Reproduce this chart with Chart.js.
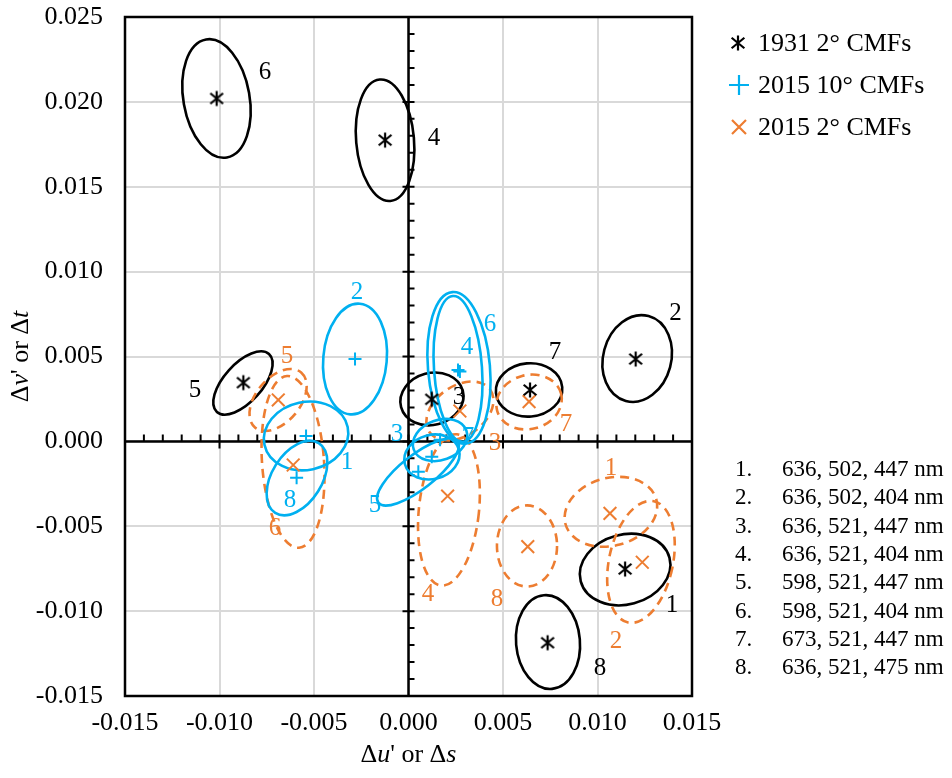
<!DOCTYPE html>
<html>
<head>
<meta charset="utf-8">
<title>White point shift by CMF set</title>
<script src="https://cdn.jsdelivr.net/npm/chart.js@4"></script>
<style>
  body { margin: 0; background: #fff; }
  canvas { display: block; }
</style>
</head>
<body>
<canvas id="cmfChart" width="952" height="778"></canvas>
<script>
// primary sets, numbered 1..8
const setIds = ['1', '2', '3', '4', '5', '6', '7', '8'];
const primaries = [
  '636, 502, 447 nm', '636, 502, 404 nm', '636, 521, 447 nm', '636, 521, 404 nm',
  '598, 521, 447 nm', '598, 521, 404 nm', '673, 521, 447 nm', '636, 521, 475 nm'
];

// mean shift (du' or ds, dv' or dt) for each set
const cie1931U = [0.01146, 0.01202, 0.00123, -0.00124, -0.00874, -0.01015, 0.00643, 0.00736];
const cie1931V = [-0.00752, 0.00485, 0.00248, 0.01775, 0.00346, 0.02020, 0.00303, -0.01186];
const cmf10U = [-0.00542, -0.00283, 0.00123, 0.00272, 0.00052, 0.00262, 0.00167, -0.00592];
const cmf10V = [0.00032, 0.00485, -0.00090, 0.00411, -0.00179, 0.00420, 0.00010, -0.00214];
const cmf2U = [0.01066, 0.01237, 0.00272, 0.00207, -0.00689, -0.00610, 0.00638, 0.00631];
const cmf2V = [-0.00424, -0.00712, 0.00179, -0.00322, 0.00244, -0.00139, 0.00234, -0.00620];

// spread ellipses: centre u, centre v, half width (u), half height (v), tilt deg
const cie1931Ell = [
  [0.01146, -0.00755, 0.00243, 0.00206, 15],
  [0.01210, 0.00488, 0.00180, 0.00259, -15],
  [0.00124, 0.00250, 0.00169, 0.00153, 15],
  [-0.00124, 0.01774, 0.00153, 0.00359, 5],
  [-0.00876, 0.00344, 0.00206, 0.00112, 48],
  [-0.01016, 0.02020, 0.00175, 0.00353, 10],
  [0.00638, 0.00303, 0.00176, 0.00157, 5],
  [0.00738, -0.01182, 0.00169, 0.00277, 5]
];
const cmf10Ell = [
  [-0.00542, 0.00032, 0.00225, 0.00200, 12],
  [-0.00283, 0.00485, 0.00168, 0.00327, -5],
  [0.00124, -0.00092, 0.00148, 0.00130, 15],
  [0.00262, 0.00427, 0.00127, 0.00430, 4],
  [0.00050, -0.00180, 0.00265, 0.00100, 38],
  [0.00267, 0.00433, 0.00164, 0.00448, 5],
  [0.00167, 0.00008, 0.00148, 0.00118, 20],
  [-0.00590, -0.00216, 0.00132, 0.00242, -32]
];
const cmf2Ell = [
  [0.01071, -0.00415, 0.00249, 0.00200, 15],
  [0.01230, -0.00710, 0.00169, 0.00365, -12],
  [0.00272, 0.00179, 0.00196, 0.00147, 35],
  [0.00214, -0.00404, 0.00159, 0.00448, -6],
  [-0.00690, 0.00244, 0.00190, 0.00130, 50],
  [-0.00611, -0.00121, 0.00164, 0.00507, 4],
  [0.00638, 0.00232, 0.00175, 0.00159, 15],
  [0.00627, -0.00616, 0.00159, 0.00239, 0]
];

// where the set numbers sit next to each ellipse (u, v)
const cie1931Tags = [
  [0.01394, -0.00964], [0.01413, 0.00756], [0.00267, 0.00256], [0.00135, 0.01787],
  [-0.01130, 0.00303], [-0.00759, 0.02176], [0.00775, 0.00521], [0.01013, -0.01335]
];
const cmf10Tags = [
  [-0.00325, -0.00122], [-0.00272, 0.00880], [-0.00061, 0.00038], [0.00310, 0.00556],
  [-0.00177, -0.00375], [0.00431, 0.00686], [0.00315, 0.00026], [-0.00627, -0.00345]
];
const cmf2Tags = [
  [0.01071, -0.00157], [0.01098, -0.01176], [0.00458, -0.00010], [0.00103, -0.00899],
  [-0.00643, 0.00503], [-0.00706, -0.00510], [0.00833, 0.00097], [0.00468, -0.00934]
];

const BLUE = '#00b0f0';
const ORANGE = '#ed7d31';
const SERIF = "'Liberation Serif', 'Times New Roman', serif";

const groups = [
  { name: '1931 2° CMFs', u: cie1931U, v: cie1931V, ell: cie1931Ell, tags: cie1931Tags, color: '#000000', dash: [] },
  { name: '2015 10° CMFs', u: cmf10U, v: cmf10V, ell: cmf10Ell, tags: cmf10Tags, color: BLUE, dash: [] },
  { name: '2015 2° CMFs', u: cmf2U, v: cmf2V, ell: cmf2Ell, tags: cmf2Tags, color: ORANGE, dash: [9, 6] }
];

// axis titles, italic pieces marked true
const xTitle = [['Δ', false], ['u', true], ["' or Δ", false], ['s', true]];
const yTitle = [['Δ', false], ['v', true], ["' or Δ", false], ['t', true]];

// Excel style asterisk marker (x with a vertical bar)
function makeStar(size) {
  const c = document.createElement('canvas');
  c.width = size; c.height = size;
  const g = c.getContext('2d');
  const m = size / 2, r = size / 2 - 1.5;
  g.strokeStyle = '#000';
  g.lineWidth = 2.2;
  g.beginPath();
  g.moveTo(m - r * 0.85, m - r * 0.7); g.lineTo(m + r * 0.85, m + r * 0.7);
  g.moveTo(m + r * 0.85, m - r * 0.7); g.lineTo(m - r * 0.85, m + r * 0.7);
  g.moveTo(m, m - r); g.lineTo(m, m + r);
  g.stroke();
  return c;
}
const starImg = makeStar(18);

function pts(us, vs) {
  return us.map((u, i) => ({ x: u, y: vs[i] }));
}

function tickText(v) {
  return Math.abs(v) < 1e-9 ? '0.000' : v.toFixed(3);
}

// text with mixed upright / italic pieces, centred on (cx, cy)
function mixedText(ctx, parts, cx, cy, size) {
  const fontOf = it => (it ? 'italic ' : '') + size + 'px ' + SERIF;
  let total = 0;
  parts.forEach(p => { ctx.font = fontOf(p[1]); total += ctx.measureText(p[0]).width; });
  let xx = cx - total / 2;
  parts.forEach(p => {
    ctx.font = fontOf(p[1]);
    ctx.fillText(p[0], xx, cy);
    xx += ctx.measureText(p[0]).width;
  });
}

// axis lines through zero, plot frame, ellipses
const ellipsePlugin = {
  id: 'ellipses',
  beforeDatasetsDraw(chart) {
    const { ctx, chartArea: a, scales: { x, y } } = chart;
    const x0 = x.getPixelForValue(0), y0 = y.getPixelForValue(0);
    ctx.save();
    ctx.strokeStyle = '#000';

    // axes through origin with ticks
    ctx.lineWidth = 2;
    ctx.beginPath();
    for (let k = -15; k <= 15; k++) {
      const px = x.getPixelForValue(k / 1000);
      if (k % 5 === 0) { ctx.moveTo(px, y0 - 7); ctx.lineTo(px, y0 + 7); }
      else { ctx.moveTo(px, y0 - 7); ctx.lineTo(px, y0); }
    }
    for (let k = -15; k <= 25; k++) {
      const py = y.getPixelForValue(k / 1000);
      if (k % 5 === 0) { ctx.moveTo(x0 - 6, py); ctx.lineTo(x0 + 6, py); }
      else { ctx.moveTo(x0, py); ctx.lineTo(x0 + 6, py); }
    }
    ctx.stroke();
    ctx.lineWidth = 2.5;
    ctx.beginPath();
    ctx.moveTo(a.left, y0); ctx.lineTo(a.right, y0);
    ctx.moveTo(x0, a.top); ctx.lineTo(x0, a.bottom);
    ctx.stroke();

    // frame
    ctx.strokeRect(a.left, a.top, a.right - a.left, a.bottom - a.top);

    // ellipses: black, orange, then blue on top
    [groups[0], groups[2], groups[1]].forEach(g => {
      ctx.strokeStyle = g.color;
      ctx.lineWidth = 2.6;
      ctx.setLineDash(g.dash);
      g.ell.forEach(e => {
        const cx = x.getPixelForValue(e[0]), cy = y.getPixelForValue(e[1]);
        const rx = Math.abs(x.getPixelForValue(e[0] + e[2]) - cx);
        const ry = Math.abs(y.getPixelForValue(e[1] + e[3]) - cy);
        ctx.beginPath();
        ctx.ellipse(cx, cy, rx, ry, -e[4] * Math.PI / 180, 0, Math.PI * 2);
        ctx.stroke();
      });
    });
    ctx.setLineDash([]);
    ctx.restore();
  },
  afterDatasetsDraw(chart) {
    const { ctx, scales: { x, y } } = chart;
    ctx.save();
    ctx.font = '25px ' + SERIF;
    ctx.textAlign = 'center';
    ctx.textBaseline = 'middle';
    groups.forEach(g => {
      ctx.fillStyle = g.color;
      g.tags.forEach((t, i) => {
        ctx.fillText(setIds[i], x.getPixelForValue(t[0]), y.getPixelForValue(t[1]));
      });
    });
    ctx.restore();
  },
  afterDraw(chart) {
    const { ctx, chartArea: a } = chart;
    ctx.save();
    ctx.fillStyle = '#000';
    ctx.textBaseline = 'middle';
    ctx.textAlign = 'left';

    // axis titles
    mixedText(ctx, xTitle, (a.left + a.right) / 2, 755, 26);
    ctx.save();
    ctx.translate(21, (a.top + a.bottom) / 2);
    ctx.rotate(-Math.PI / 2);
    mixedText(ctx, yTitle, 0, 0, 26);
    ctx.restore();

    // series legend
    const rows = [43, 85, 127];
    ctx.font = '26px ' + SERIF;
    groups.forEach((g, i) => {
      const my = rows[i];
      ctx.strokeStyle = g.color;
      ctx.lineWidth = 2.2;
      ctx.beginPath();
      if (i === 0) {
        ctx.drawImage(starImg, 738 - 9, my - 9);
      } else if (i === 1) {
        ctx.moveTo(729, my); ctx.lineTo(749, my);
        ctx.moveTo(739, my - 10); ctx.lineTo(739, my + 10);
      } else {
        ctx.moveTo(732, my - 7); ctx.lineTo(746, my + 7);
        ctx.moveTo(746, my - 7); ctx.lineTo(732, my + 7);
      }
      ctx.stroke();
      ctx.fillStyle = '#000';
      ctx.fillText(g.name, 758, my + 1);
    });

    // key to the primary sets
    ctx.font = '23px ' + SERIF;
    primaries.forEach((p, i) => {
      const ry = 470 + i * 28.3;
      ctx.fillText(setIds[i] + '.', 735, ry);
      ctx.fillText(p, 782, ry);
    });
    ctx.restore();
  }
};

const ctx = document.getElementById('cmfChart').getContext('2d');

const chart = new Chart(ctx, {
  type: 'scatter',
  data: {
    datasets: [
      {
        label: groups[0].name,
        data: pts(cie1931U, cie1931V),
        pointStyle: starImg,
        pointRadius: 9
      },
      {
        label: groups[1].name,
        data: pts(cmf10U, cmf10V),
        pointStyle: 'cross',
        pointRadius: 6.5,
        borderColor: BLUE,
        backgroundColor: BLUE,
        pointBorderWidth: 2
      },
      {
        label: groups[2].name,
        data: pts(cmf2U, cmf2V),
        pointStyle: 'crossRot',
        pointRadius: 9,
        borderColor: ORANGE,
        backgroundColor: ORANGE,
        pointBorderWidth: 2
      }
    ]
  },
  options: {
    responsive: false,
    animation: false,
    layout: { padding: { left: 0, right: 260, top: 17, bottom: 0 } },
    plugins: {
      legend: { display: false },
      tooltip: { enabled: false }
    },
    scales: {
      x: {
        type: 'linear',
        min: -0.015,
        max: 0.015,
        afterFit: s => { s.height = 82; s.paddingLeft = 0; s.paddingRight = 0; },
        ticks: {
          stepSize: 0.005,
          callback: tickText,
          color: '#000',
          padding: 12,
          font: { family: SERIF, size: 26 }
        },
        grid: { color: '#d9d9d9', lineWidth: 2, drawTicks: false },
        border: { display: false }
      },
      y: {
        type: 'linear',
        min: -0.015,
        max: 0.025,
        afterFit: s => { s.width = 125; s.paddingTop = 0; s.paddingBottom = 0; },
        ticks: {
          stepSize: 0.005,
          callback: tickText,
          color: '#000',
          padding: 22,
          font: { family: SERIF, size: 26 }
        },
        grid: { color: '#d9d9d9', lineWidth: 2, drawTicks: false },
        border: { display: false }
      }
    }
  },
  plugins: [ellipsePlugin]
});
</script>
</body>
</html>
